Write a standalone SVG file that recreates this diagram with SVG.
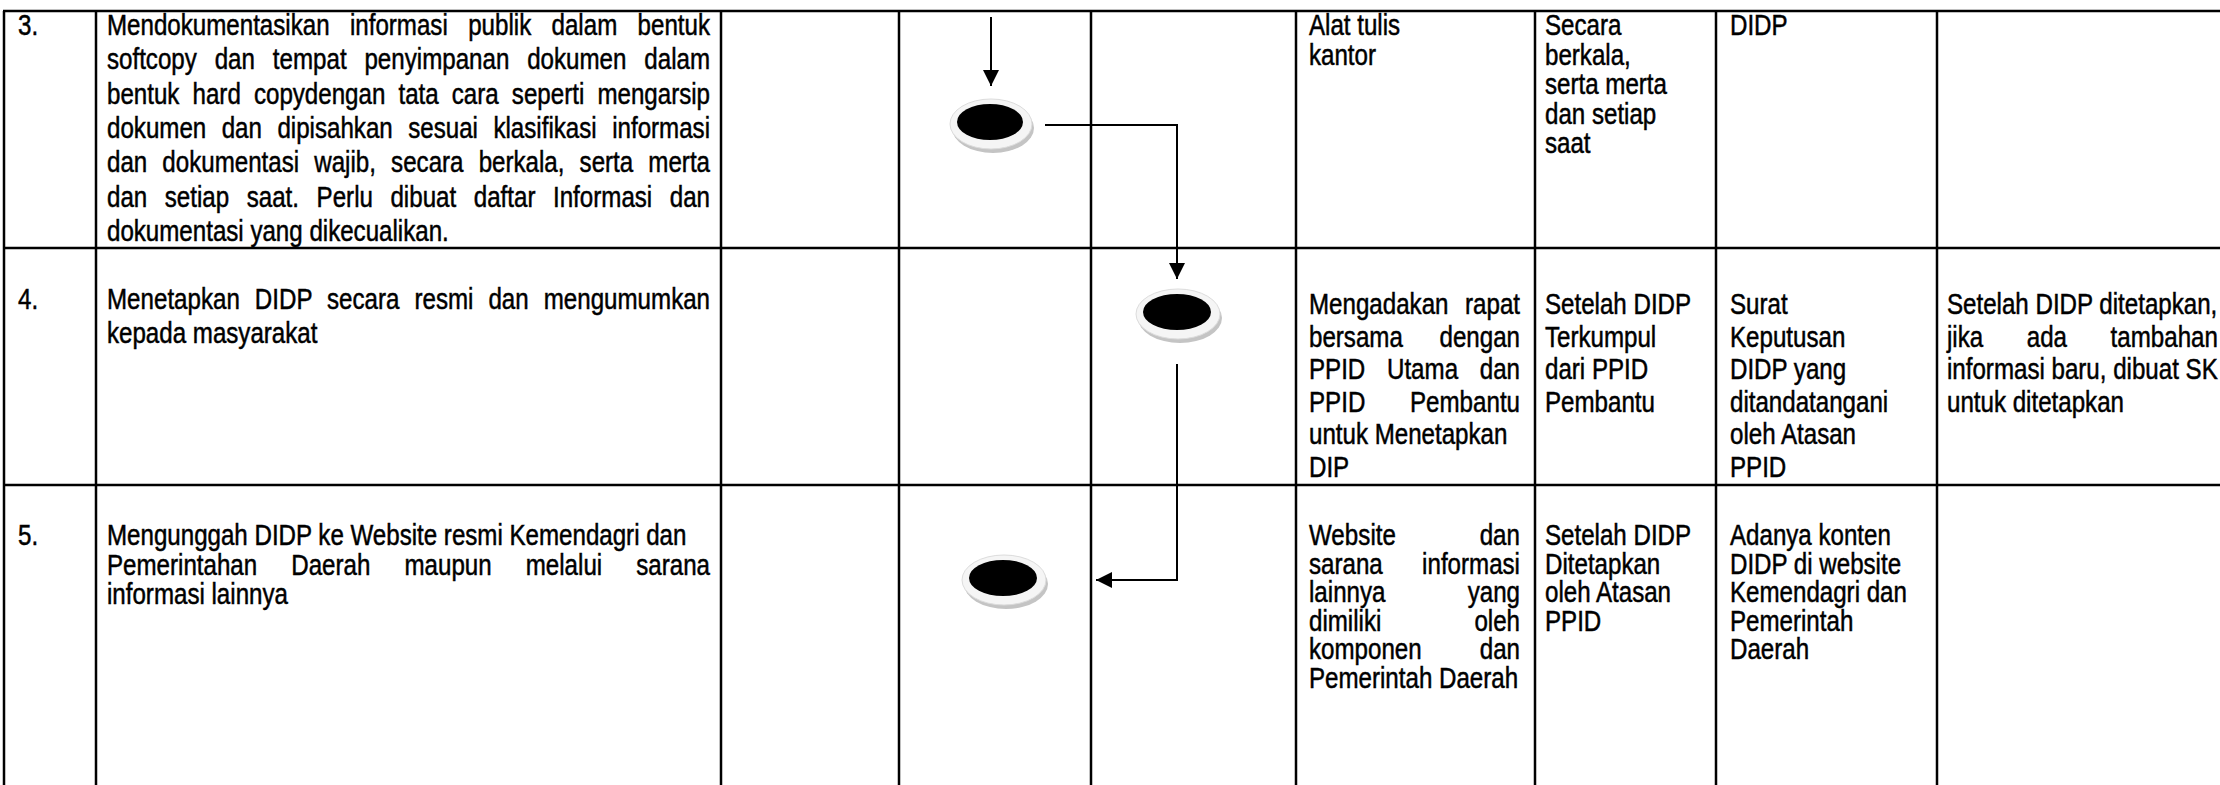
<svg xmlns="http://www.w3.org/2000/svg" width="2220" height="785" viewBox="0 0 2220 785">
<style>
.t{font-family:"Liberation Sans",Arial,sans-serif;font-size:29px;fill:#000;stroke:#000;stroke-width:0.5}
.grid{stroke:#000;stroke-width:2.5;fill:none}
.con{stroke:#000;stroke-width:2;fill:none}
.sh{fill:#c4c4c4}
.rim{fill:#f5f5f5;stroke:#dcdcdc;stroke-width:1}
.dot{fill:#000}
</style>
<defs>
<marker id="ah" markerUnits="userSpaceOnUse" markerWidth="16" markerHeight="16" viewBox="0 0 16 16" refX="16" refY="8" orient="auto">
<path d="M0,0 L16,8 L0,16 z" fill="#000"/>
</marker>
</defs>
<rect width="2220" height="785" fill="#fff"/>
<g id="table" class="grid">
<path d="M3,11 H2220 M3,248 H2220 M3,485 H2220"/>
<path d="M4,11 V785 M96,11 V785 M721,11 V785 M899,11 V785 M1091,11 V785 M1296,11 V785 M1535,11 V785 M1716,11 V785 M1937,11 V785"/>
</g>
<g id="row3">
<text class="t" transform="translate(18 35) scale(0.832 1)">3.</text>
<text class="t" transform="translate(107 35) scale(0.832 1)" word-spacing="16.40" textLength="724.8" lengthAdjust="spacing">Mendokumentasikan informasi publik dalam bentuk</text>
<text class="t" transform="translate(107 69.3) scale(0.832 1)" word-spacing="13.43" textLength="724.8" lengthAdjust="spacing">softcopy dan tempat penyimpanan dokumen dalam</text>
<text class="t" transform="translate(107 103.6) scale(0.832 1)" word-spacing="7.71" textLength="724.8" lengthAdjust="spacing">bentuk hard copydengan tata cara seperti mengarsip</text>
<text class="t" transform="translate(107 137.9) scale(0.832 1)" word-spacing="10.54" textLength="724.8" lengthAdjust="spacing">dokumen dan dipisahkan sesuai klasifikasi informasi</text>
<text class="t" transform="translate(107 172.2) scale(0.832 1)" word-spacing="10.13" textLength="724.8" lengthAdjust="spacing">dan dokumentasi wajib, secara berkala, serta merta</text>
<text class="t" transform="translate(107 206.5) scale(0.832 1)" word-spacing="13.04" textLength="724.8" lengthAdjust="spacing">dan setiap saat. Perlu dibuat daftar Informasi dan</text>
<text class="t" transform="translate(107 240.8) scale(0.832 1)">dokumentasi yang dikecualikan.</text>
<text class="t" transform="translate(1309 35) scale(0.832 1)">Alat tulis</text>
<text class="t" transform="translate(1309 64.5) scale(0.832 1)">kantor</text>
<text class="t" transform="translate(1545 35) scale(0.832 1)">Secara</text>
<text class="t" transform="translate(1545 64.5) scale(0.832 1)">berkala,</text>
<text class="t" transform="translate(1545 94) scale(0.832 1)">serta merta</text>
<text class="t" transform="translate(1545 123.5) scale(0.832 1)">dan setiap</text>
<text class="t" transform="translate(1545 153) scale(0.832 1)">saat</text>
<text class="t" transform="translate(1730 35) scale(0.832 1)">DIDP</text>
</g>
<g id="row4">
<text class="t" transform="translate(18 309) scale(0.832 1)">4.</text>
<text class="t" transform="translate(107 309) scale(0.832 1)" word-spacing="9.90" textLength="724.8" lengthAdjust="spacing">Menetapkan DIDP secara resmi dan mengumumkan</text>
<text class="t" transform="translate(107 343) scale(0.832 1)">kepada masyarakat</text>
<text class="t" transform="translate(1309 314) scale(0.832 1)" word-spacing="11.80" textLength="253.6" lengthAdjust="spacing">Mengadakan rapat</text>
<text class="t" transform="translate(1309 346.6) scale(0.832 1)" word-spacing="35.99" textLength="253.6" lengthAdjust="spacing">bersama dengan</text>
<text class="t" transform="translate(1309 379.2) scale(0.832 1)" word-spacing="18.01" textLength="253.6" lengthAdjust="spacing">PPID Utama dan</text>
<text class="t" transform="translate(1309 411.8) scale(0.832 1)" word-spacing="45.67" textLength="253.6" lengthAdjust="spacing">PPID Pembantu</text>
<text class="t" transform="translate(1309 444.4) scale(0.832 1)">untuk Menetapkan</text>
<text class="t" transform="translate(1309 477) scale(0.832 1)">DIP</text>
<text class="t" transform="translate(1545 314) scale(0.832 1)">Setelah DIDP</text>
<text class="t" transform="translate(1545 346.6) scale(0.832 1)">Terkumpul</text>
<text class="t" transform="translate(1545 379.2) scale(0.832 1)">dari PPID</text>
<text class="t" transform="translate(1545 411.8) scale(0.832 1)">Pembantu</text>
<text class="t" transform="translate(1730 314) scale(0.832 1)">Surat</text>
<text class="t" transform="translate(1730 346.6) scale(0.832 1)">Keputusan</text>
<text class="t" transform="translate(1730 379.2) scale(0.832 1)">DIDP yang</text>
<text class="t" transform="translate(1730 411.8) scale(0.832 1)">ditandatangani</text>
<text class="t" transform="translate(1730 444.4) scale(0.832 1)">oleh Atasan</text>
<text class="t" transform="translate(1730 477) scale(0.832 1)">PPID</text>
<text class="t" transform="translate(1947 314) scale(0.832 1)">Setelah DIDP ditetapkan,</text>
<text class="t" transform="translate(1947 346.6) scale(0.832 1)" word-spacing="44.32" textLength="325.6" lengthAdjust="spacing">jika ada tambahan</text>
<text class="t" transform="translate(1947 379.2) scale(0.832 1)">informasi baru, dibuat SK</text>
<text class="t" transform="translate(1947 411.8) scale(0.832 1)">untuk ditetapkan</text>
</g>
<g id="row5">
<text class="t" transform="translate(18 545) scale(0.832 1)">5.</text>
<text class="t" transform="translate(107 545) scale(0.832 1)">Mengunggah DIDP ke Website resmi Kemendagri dan</text>
<text class="t" transform="translate(107 574.5) scale(0.832 1)" word-spacing="32.92" textLength="724.8" lengthAdjust="spacing">Pemerintahan Daerah maupun melalui sarana</text>
<text class="t" transform="translate(107 604) scale(0.832 1)">informasi lainnya</text>
<text class="t" transform="translate(1309 545) scale(0.832 1)" word-spacing="92.42" textLength="253.6" lengthAdjust="spacing">Website dan</text>
<text class="t" transform="translate(1309 573.5) scale(0.832 1)" word-spacing="39.26" textLength="253.6" lengthAdjust="spacing">sarana informasi</text>
<text class="t" transform="translate(1309 602) scale(0.832 1)" word-spacing="90.80" textLength="253.6" lengthAdjust="spacing">lainnya yang</text>
<text class="t" transform="translate(1309 630.5) scale(0.832 1)" word-spacing="103.76" textLength="253.6" lengthAdjust="spacing">dimiliki oleh</text>
<text class="t" transform="translate(1309 659) scale(0.832 1)" word-spacing="61.77" textLength="253.6" lengthAdjust="spacing">komponen dan</text>
<text class="t" transform="translate(1309 687.5) scale(0.832 1)">Pemerintah Daerah</text>
<text class="t" transform="translate(1545 545) scale(0.832 1)">Setelah DIDP</text>
<text class="t" transform="translate(1545 573.5) scale(0.832 1)">Ditetapkan</text>
<text class="t" transform="translate(1545 602) scale(0.832 1)">oleh Atasan</text>
<text class="t" transform="translate(1545 630.5) scale(0.832 1)">PPID</text>
<text class="t" transform="translate(1730 545) scale(0.832 1)">Adanya konten</text>
<text class="t" transform="translate(1730 573.5) scale(0.832 1)">DIDP di website</text>
<text class="t" transform="translate(1730 602) scale(0.832 1)">Kemendagri dan</text>
<text class="t" transform="translate(1730 630.5) scale(0.832 1)">Pemerintah</text>
<text class="t" transform="translate(1730 659) scale(0.832 1)">Daerah</text>
</g>
<g id="node-e1">
<ellipse class="sh" cx="993" cy="128" rx="41" ry="25"/>
<ellipse class="rim" cx="991" cy="124" rx="41" ry="25"/>
<ellipse class="dot" cx="990" cy="122" rx="33" ry="18"/>
</g>
<g id="node-e2">
<ellipse class="sh" cx="1180" cy="318" rx="42" ry="25"/>
<ellipse class="rim" cx="1178" cy="314" rx="42" ry="25"/>
<ellipse class="dot" cx="1177" cy="312" rx="34" ry="18"/>
</g>
<g id="node-e3">
<ellipse class="sh" cx="1006" cy="584" rx="42" ry="25"/>
<ellipse class="rim" cx="1004" cy="580" rx="42" ry="25"/>
<ellipse class="dot" cx="1003" cy="578" rx="34" ry="18"/>
</g>
<g id="connectors" class="con">
<path d="M991,17 V86" marker-end="url(#ah)"/>
<path d="M1045,125 H1177 V279" marker-end="url(#ah)"/>
<path d="M1177,364 V580 H1096" marker-end="url(#ah)"/>
</g>
</svg>
